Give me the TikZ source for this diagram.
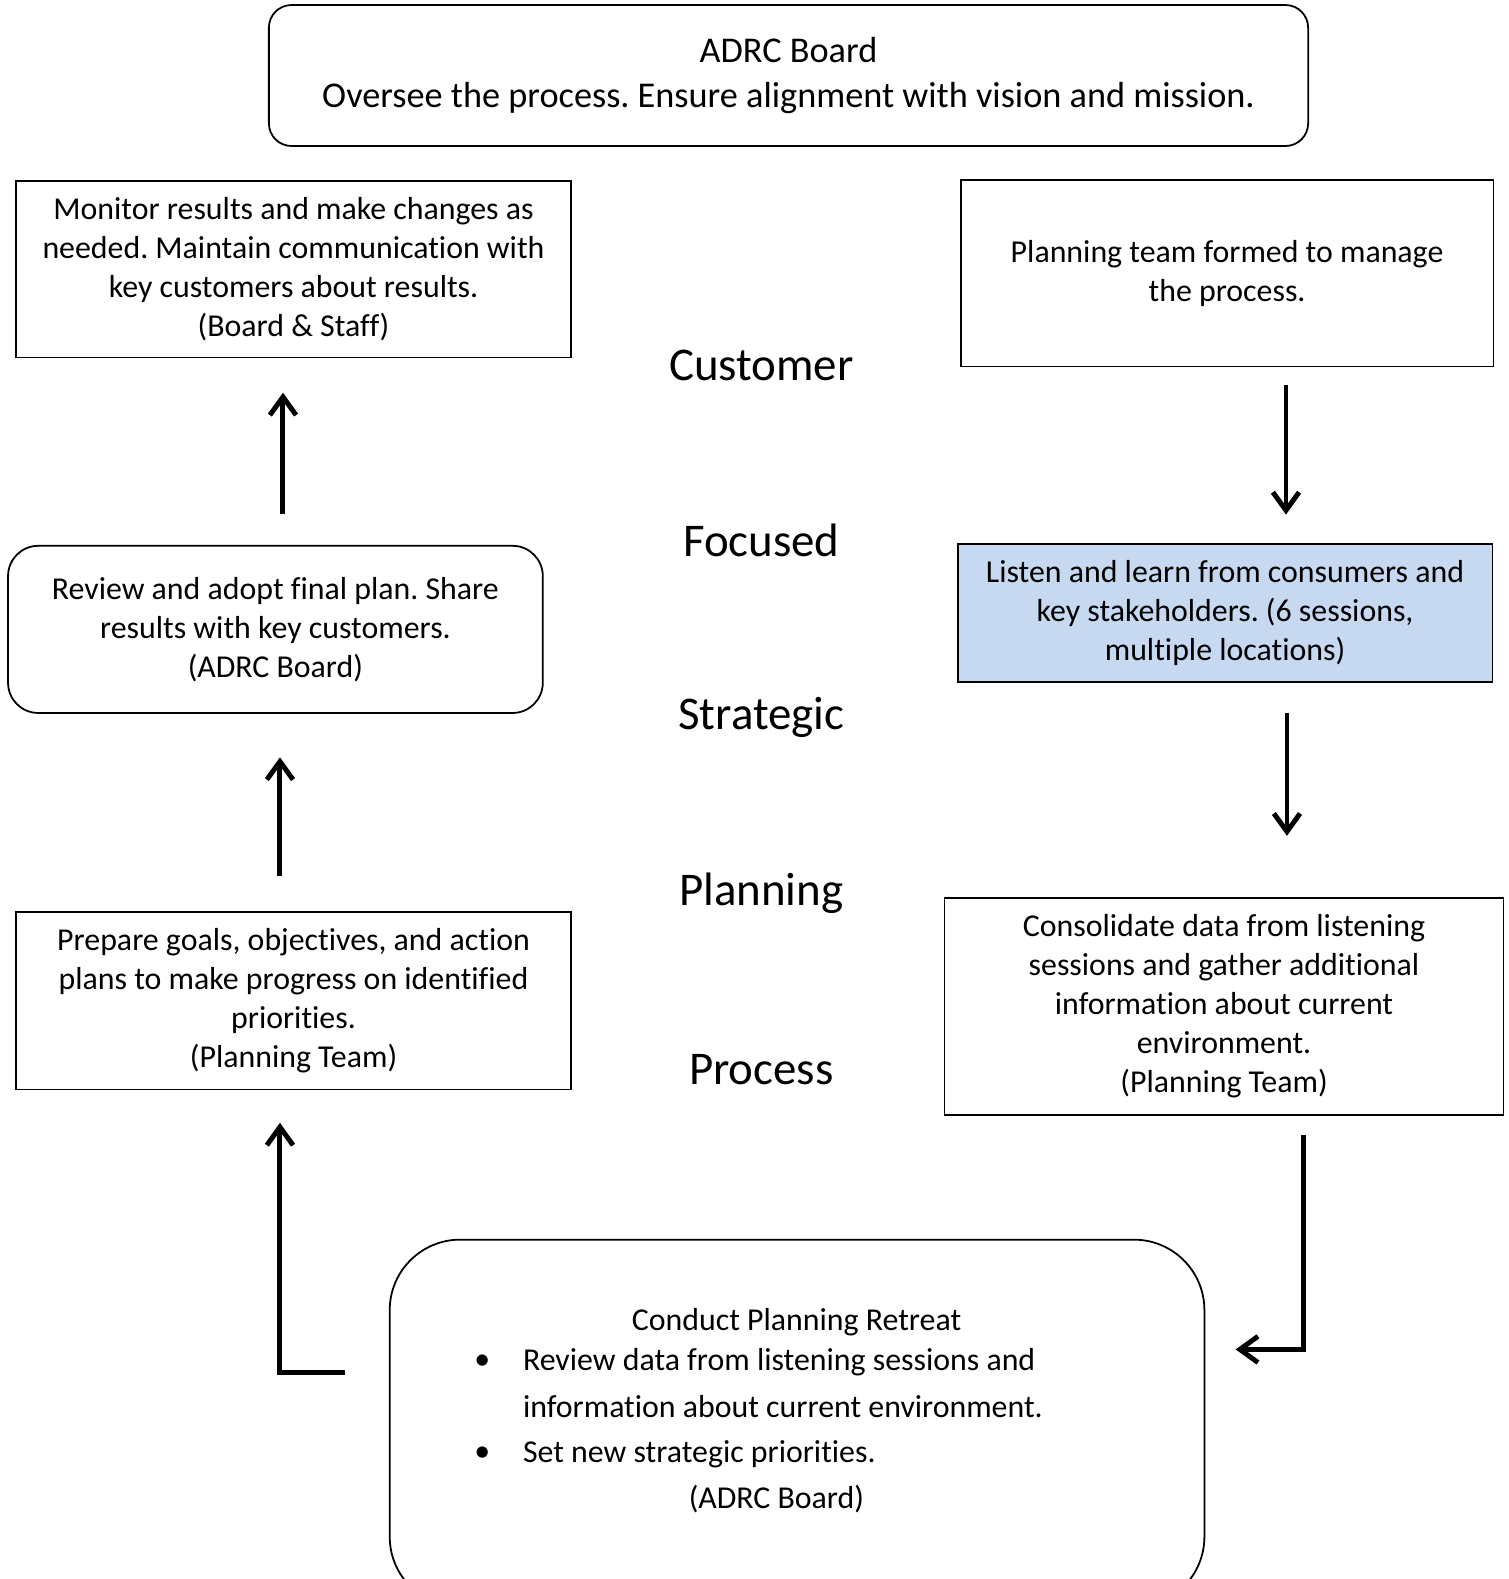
\documentclass[tikz,border=0pt]{standalone}
\usepackage{fontspec}
\setmainfont{Carlito}[RawFeature={-liga}]
\usetikzlibrary{positioning,arrows.meta}
\definecolor{listenblue}{HTML}{C6D9F1}
\frenchspacing

\begin{document}
\begin{tikzpicture}[>={Straight Barb[length=0.36cm,width=0.52cm]}]
            \tikzstyle{box}=[draw, line width=1pt, inner sep=0pt, align=center,
            font=\fontsize{18}{22}\selectfont]
            \tikzstyle{flow}=[->, line width=2.8pt]
            \tikzstyle{word}=[font=\fontsize{26.5}{30}\selectfont]
            \useasboundingbox (0,0) rectangle (29.96,-31.36);
            %   monitor      Customer     team
            %   review       Strategic    listen
            %   prepare      Process      consolidate
            %                retreat
            \node[box, rounded corners=0.45cm, minimum width=20.64cm, minimum height=2.8cm,
                  font=\fontsize{20.5}{25.5}\selectfont] (board) at (15.66,-1.5)
                  {ADRC Board\\Oversee the process. Ensure alignment with vision and mission.};
            \node[box, minimum width=11.02cm, minimum height=3.5cm] (monitor) at (5.83,-5.35)
                  {Monitor results and make changes as\\needed. Maintain communication with\\key customers about results.\\(Board \& Staff)};
            \node[box, minimum width=10.58cm, minimum height=3.7cm] (team) at (24.37,-5.43)
                  {Planning team formed to manage\\the process.};
            \node[box, rounded corners=0.6cm, minimum width=10.62cm, minimum height=3.32cm] (review) at (5.47,-12.5)
                  {Review and adopt final plan. Share\\results with key customers.\\(ADRC Board)};
            \node[box, fill=listenblue, minimum width=10.62cm, minimum height=2.74cm] (listen) at (24.33,-12.17)
                  {Listen and learn from consumers and\\key stakeholders. (6 sessions,\\multiple locations)};
            \node[box, minimum width=11.02cm, minimum height=3.52cm] (prepare) at (5.83,-19.88)
                  {Prepare goals, objectives, and action\\plans to make progress on identified\\priorities.\\(Planning Team)};
            \node[box, minimum width=11.1cm, minimum height=4.3cm] (consolidate) at (24.31,-19.99)
                  {Consolidate data from listening\\sessions and gather additional\\information about current\\environment.\\(Planning Team)};
            \node[box, rounded corners=1.4cm, minimum width=16.18cm, minimum height=7.3cm] (retreat) at (15.83,-28.27) {};

            % retreat text
            \tikzstyle{item}=[font=\fontsize{18}{22}\selectfont, inner sep=0pt]
            \node[item] (rtitle) at (15.82,-26.26) {Conduct Planning Retreat};
            \node[item] (bulA) at (9.58,-27.06) {\textbullet};
            \node[item, anchor=west] (itemA) at (10.38,-27.06) {Review data from listening sessions and};
            \node[item, anchor=west] (itemAb) at (10.38,-27.94) {information about current environment.};
            \node[item] (bulB) at (9.58,-28.88) {\textbullet};
            \node[item, anchor=west] (itemB) at (10.38,-28.88) {Set new strategic priorities.};
            \node[item] (rwho) at (15.42,-29.78) {(ADRC Board)};

            \foreach \w/\y in {Customer/-7.26, Focused/-10.74, Strategic/-14.24, Planning/-17.74, Process/-21.24}
                  \node[word] (w\w) at (15.12,\y) {\w};

            \coordinate (a1) at (25.54,-7.64);  \coordinate (b1) at (25.54,-10.22);
            \coordinate (a2) at (25.56,-14.16); \coordinate (b2) at (25.56,-16.6);
            \coordinate (a3) at (25.88,-22.54); \coordinate (b3) at (24.54,-26.8);
            \coordinate (a4) at (6.86,-27.26);  \coordinate (b4) at (5.56,-22.3);
            \coordinate (a5) at (5.56,-17.4);   \coordinate (b5) at (5.56,-15.04);
            \coordinate (a6) at (5.62,-10.2);   \coordinate (b6) at (5.62,-7.8);
            \draw[flow] (a1) -- (b1);
            \draw[flow] (a2) -- (b2);
            \draw[flow] (a3) |- (b3);
            \draw[flow] (a4) -| (b4);
            \draw[flow] (a5) -- (b5);
            \draw[flow] (a6) -- (b6);
\end{tikzpicture}
\end{document}
